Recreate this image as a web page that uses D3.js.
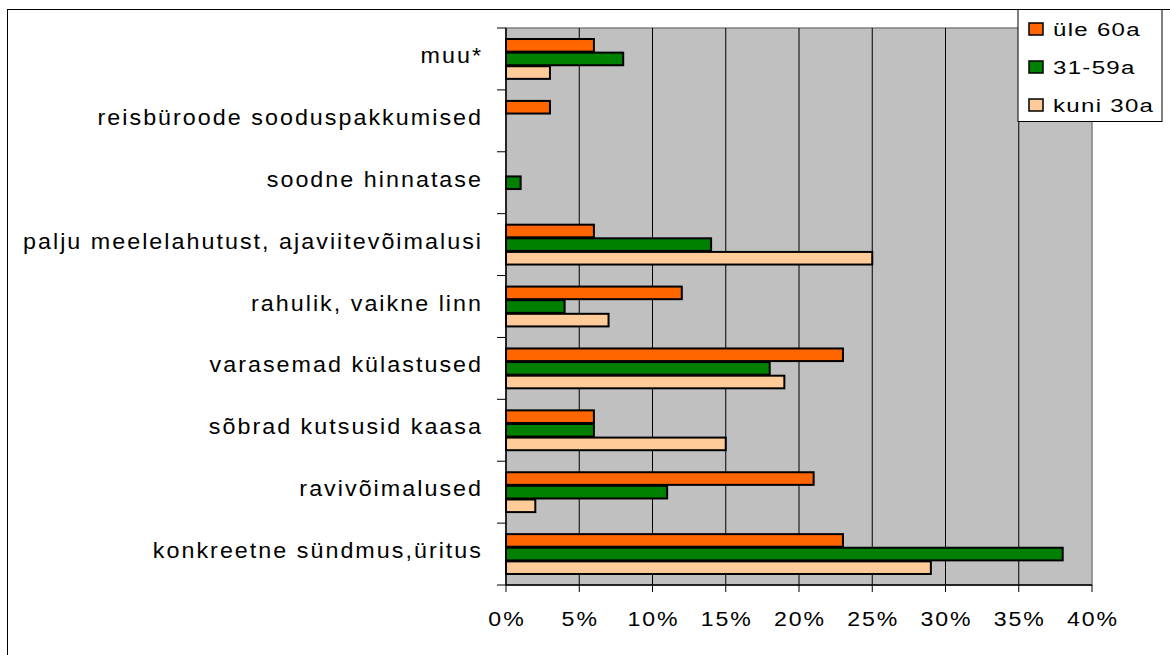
<!DOCTYPE html>
<meta charset="utf-8">
<head>
  <title>Reisimotiivid vanuserühmiti</title>
  <script src="https://d3js.org/d3.v7.min.js"></script>
  <style>
    body { margin: 0; background: #fff; }
    text { font-family: "Liberation Sans", Arial, sans-serif; fill: #000; }
  </style>
</head>
<body>
  <svg width="1170" height="655"></svg>
  <script>
    // categories top to bottom
    const categories = [
      "muu*",
      "reisbüroode sooduspakkumised",
      "soodne hinnatase",
      "palju meelelahutust, ajaviitevõimalusi",
      "rahulik, vaikne linn",
      "varasemad külastused",
      "sõbrad kutsusid kaasa",
      "ravivõimalused",
      "konkreetne sündmus,üritus"
    ];
    const seriesNames = ["üle 60a", "31-59a", "kuni 30a"];
    const seriesColors = ["#FF6600", "#008000", "#FFCC99"];
    const ule60 = [6, 3, 0, 6, 12, 23, 6, 21, 23];
    const mid31 = [8, 0, 1, 14, 4, 18, 6, 11, 38];
    const kuni30 = [3, 0, 0, 25, 7, 19, 15, 2, 29];
    const xTicks = [0, 5, 10, 15, 20, 25, 30, 35, 40];

    const svg = d3.select("svg");
    const pLeft = 506, pRight = 1092, pTop = 28, pBottom = 585;

    // outer chart border
    svg.append("rect").attr("x", 7.5).attr("y", 9.5).attr("width", 1170).attr("height", 660)
      .attr("fill", "#fff").attr("stroke", "#000").attr("stroke-width", 1);

    const x = d3.scaleLinear().domain([0, 40]).range([pLeft, pRight]);
    const y = d3.scaleBand().domain(categories).range([pTop, pBottom])
      .paddingInner(0.34).paddingOuter(0.17);
    const ySub = d3.scaleBand().domain(seriesNames).range([0, y.bandwidth()]);

    svg.append("rect").attr("x", pLeft).attr("y", pTop).attr("width", pRight - pLeft).attr("height", pBottom - pTop)
      .attr("fill", "#C0C0C0").attr("stroke", "#808080").attr("stroke-width", 1.5);

    // gridlines
    svg.append("g").selectAll("line").data(xTicks.slice(1, -1)).join("line")
      .attr("x1", d => x(d)).attr("x2", d => x(d)).attr("y1", pTop).attr("y2", pBottom)
      .attr("stroke", "#000").attr("stroke-width", 1);

    const rows = categories.map((c, i) => ({ c, vals: [ule60[i], mid31[i], kuni30[i]] }));
    const g = svg.append("g").selectAll("g").data(rows).join("g")
      .attr("transform", d => `translate(0,${y(d.c)})`);
    g.selectAll("rect").data(d => d.vals.map((v, j) => ({ v, s: seriesNames[j], j })).filter(e => e.v > 0))
      .join("rect")
      .attr("x", x(0)).attr("y", e => ySub(e.s) + 0.5)
      .attr("width", e => x(e.v) - x(0)).attr("height", ySub.bandwidth() - 1)
      .attr("fill", e => seriesColors[e.j]).attr("stroke", "#000").attr("stroke-width", 2);

    // y axis line and ticks at band boundaries
    const bounds = d3.range(categories.length + 1).map(i => pTop + i * (pBottom - pTop) / categories.length);
    svg.append("line").attr("x1", pLeft).attr("x2", pLeft).attr("y1", pTop).attr("y2", pBottom)
      .attr("stroke", "#000").attr("stroke-width", 1.5);
    svg.append("g").selectAll("line").data(bounds).join("line")
      .attr("x1", pLeft - 9).attr("x2", pLeft).attr("y1", d => d).attr("y2", d => d)
      .attr("stroke", "#000").attr("stroke-width", 1);
    // text in the original is stretched wide, so scale it and space it out
    svg.append("g").selectAll("text").data(categories).join("text")
      .attr("transform", d => `translate(483,${y(d) + y.bandwidth() / 2 + 4}) scale(1.06,1)`)
      .attr("text-anchor", "end").attr("font-size", 22).attr("letter-spacing", 1.9)
      .text(d => d);

    // x axis
    svg.append("line").attr("x1", pLeft).attr("x2", pRight).attr("y1", pBottom).attr("y2", pBottom)
      .attr("stroke", "#000").attr("stroke-width", 1.5);
    svg.append("g").selectAll("line").data(xTicks).join("line")
      .attr("x1", d => x(d)).attr("x2", d => x(d)).attr("y1", pBottom).attr("y2", pBottom + 7)
      .attr("stroke", "#000").attr("stroke-width", 1);
    svg.append("g").selectAll("text").data(xTicks).join("text")
      .attr("transform", d => `translate(${x(d) + 1},626) scale(1.1,1)`)
      .attr("text-anchor", "middle").attr("font-size", 21).attr("letter-spacing", 1.8)
      .text(d => d + "%");

    // legend
    const lg = svg.append("g");
    lg.append("rect").attr("x", 1018).attr("y", 9.5).attr("width", 144).attr("height", 112)
      .attr("fill", "#fff").attr("stroke", "#000").attr("stroke-width", 1);
    seriesNames.forEach((s, i) => {
      const yy = 23 + i * 38;
      lg.append("rect").attr("x", 1029).attr("y", yy).attr("width", 14).attr("height", 12)
        .attr("fill", seriesColors[i]).attr("stroke", "#000").attr("stroke-width", 1.5);
      lg.append("text").attr("transform", `translate(1053,${yy + 13}) scale(1.3,1)`)
        .attr("font-size", 18.5).attr("letter-spacing", 1).text(s);
    });
  </script>
</body>
